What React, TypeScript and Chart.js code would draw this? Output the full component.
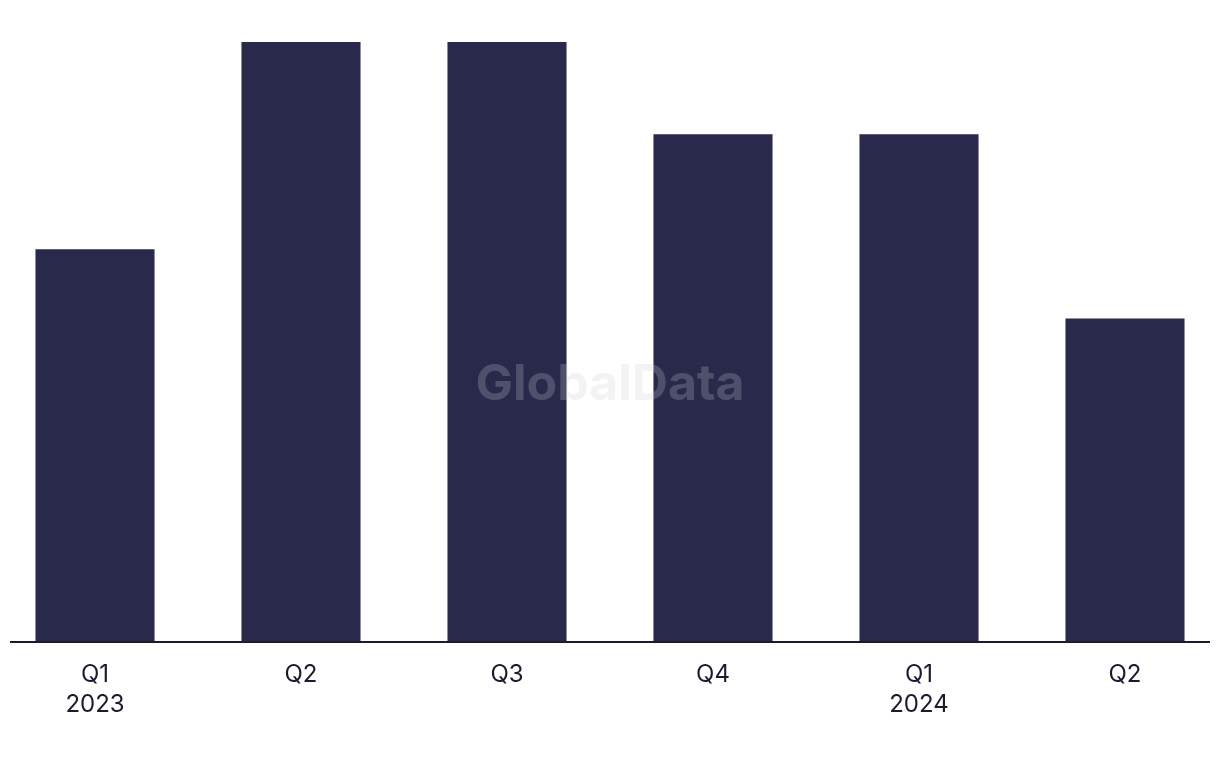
import React, { useEffect, useRef } from "react";
import { Chart, registerables } from "chart.js";

Chart.register(...registerables);

const quarters: string[] = ["Q1", "Q2", "Q3", "Q4", "Q1", "Q2"];
const years: string[] = ["2023", "", "", "", "2024", ""];
const values: number[] = [17, 26, 26, 22, 22, 14];

const BAR_COLOR = "#29294b";
const TEXT_COLOR = "#1b1b30";

const overlayPlugin = {
  id: "overlay",
  afterDatasetsDraw(chart: any) {
    const { ctx, chartArea } = chart;
    ctx.save();
    // axis line
    ctx.strokeStyle = "#1b1b30";
    ctx.lineWidth = 2;
    ctx.beginPath();
    ctx.moveTo(18, chartArea.bottom + 1);
    ctx.lineTo(1218, chartArea.bottom + 1);
    ctx.stroke();
    // watermark
    ctx.fillStyle = "rgba(205,205,215,0.24)";
    ctx.font = "bold 50px Inter, 'Liberation Sans', sans-serif";
    ctx.textAlign = "center";
    ctx.textBaseline = "middle";
    ctx.fillText("GlobalData", 618, 385);
    ctx.restore();
  },
};

export default function App() {
  const ref = useRef<HTMLCanvasElement | null>(null);

  useEffect(() => {
    if (!ref.current) return;
    const labels = quarters.map((q, i) => (years[i] ? [q, years[i]] : q));
    const chart = new Chart(ref.current, {
      type: "bar",
      data: {
        labels,
        datasets: [
          {
            data: values,
            backgroundColor: BAR_COLOR,
            borderWidth: 0,
            barPercentage: 0.578,
            categoryPercentage: 1,
          },
        ],
      },
      options: {
        animation: false,
        responsive: false,
        maintainAspectRatio: false,
        layout: { padding: { top: 42, left: 0, right: 0, bottom: 0 } },
        plugins: {
          legend: { display: false },
          tooltip: { enabled: false },
        },
        scales: {
          y: {
            display: false,
            min: 0,
            max: 26,
          },
          x: {
            grid: { display: false },
            border: { display: false },
            ticks: {
              color: TEXT_COLOR,
              font: { family: "Inter, 'Liberation Sans', sans-serif", size: 24, lineHeight: 1.25 },
              padding: 11,
              maxRotation: 0,
              autoSkip: false,
            },
            afterFit: (scale: any) => {
              scale.height = 127;
            },
          },
        },
      },
      plugins: [overlayPlugin],
    });
    return () => chart.destroy();
  }, []);

  return (
    <div style={{ width: 1220, height: 768, overflow: "hidden", margin: -8, position: "relative" }}>
      <canvas
        ref={ref}
        width={1236}
        height={768}
        style={{ position: "absolute", left: -8, top: 0, width: 1236, height: 768 }}
      />
    </div>
  );
}
